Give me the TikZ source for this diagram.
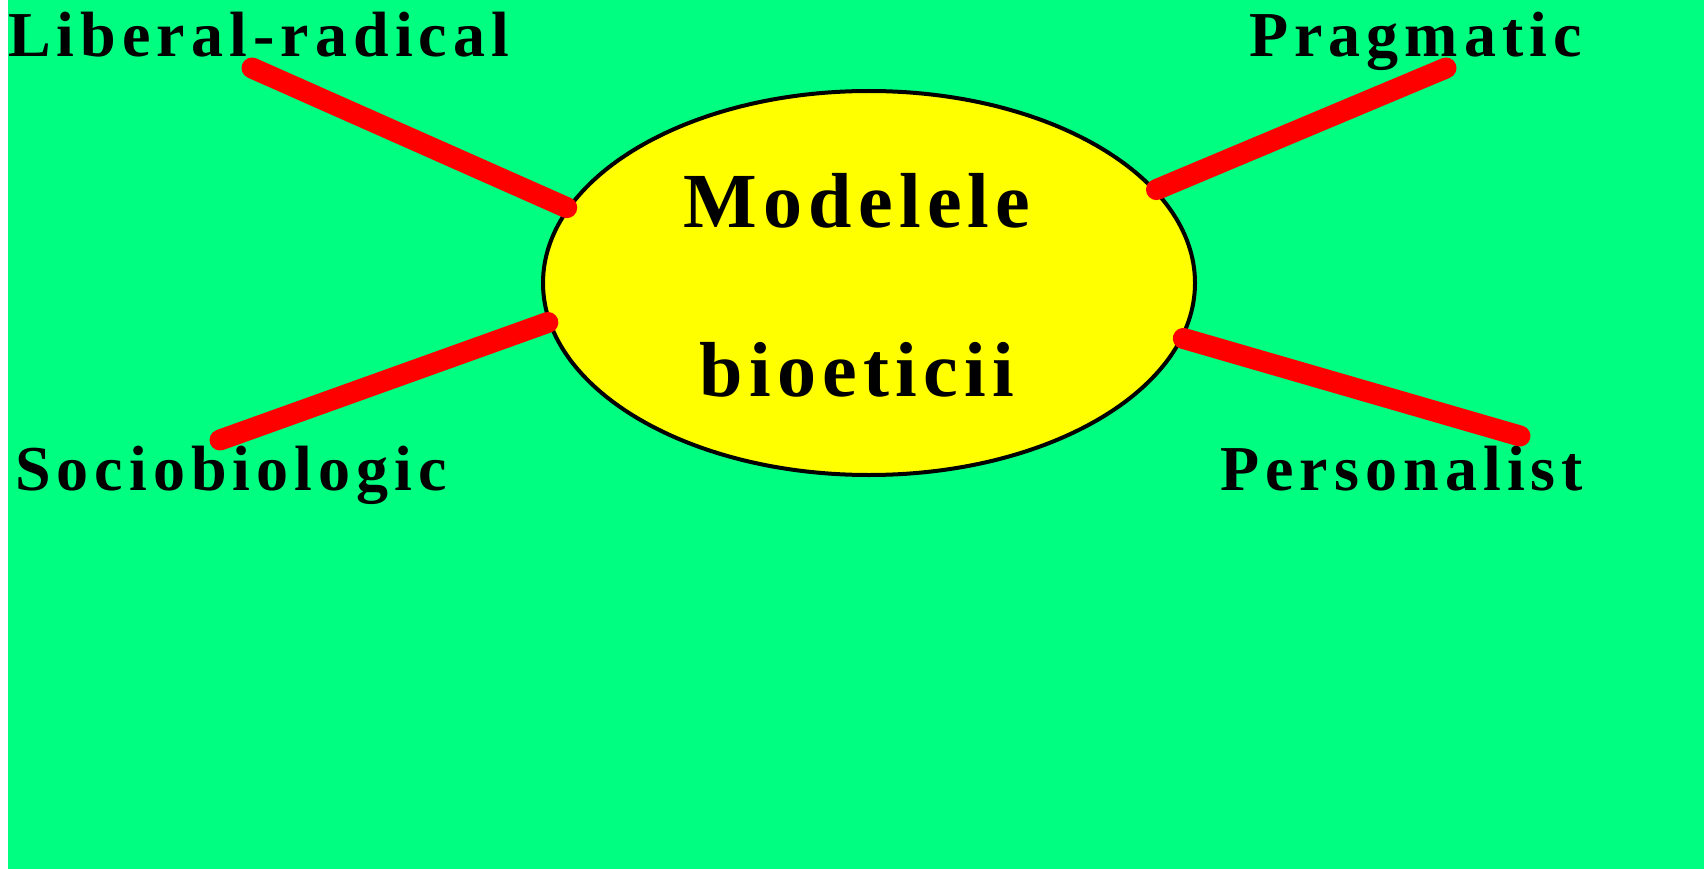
\documentclass[tikz,border=0pt]{standalone}
\usepackage{fontspec}
\setmainfont{Liberation Serif}
\newfontfamily\etichetafont{Liberation Serif}[LetterSpace=9.5]
\newfontfamily\titlufont{Liberation Serif}[LetterSpace=8]
\usetikzlibrary{shapes.geometric}
\definecolor{verde}{RGB}{0,255,128}
\definecolor{galben}{RGB}{255,255,0}
\definecolor{rosu}{RGB}{255,0,0}
\tikzset{
  eticheta/.style={anchor=base west, inner sep=0pt, font=\etichetafont\bfseries\fontsize{64}{64}\selectfont},
  titlu/.style={anchor=base, inner sep=0pt, font=\titlufont\bfseries\fontsize{78}{78}\selectfont},
  legatura/.style={draw=rosu, line width=21pt, line cap=round},
}
\begin{document}
\begin{tikzpicture}[x=1pt,y=-1pt]
\useasboundingbox (0,0) rectangle (1704,869);

% Fundal
\fill[verde] (8,0) rectangle (1704,869);

% Elipsa
\node[ellipse, draw=black, line width=4pt, fill=galben, minimum width=652pt, minimum height=384pt, inner sep=0pt] (model) at (869,283) {};
\node[titlu] (modelele) at (857,227) {Modelele};
\node[titlu] (bioeticii) at (857,396) {bioeticii};

% Modele
\node[eticheta] (liberal) at (8,57) {Liberal-radical};
\node[eticheta] (pragmatic) at (1249,57) {Pragmatic};
\node[eticheta] (sociobiologic) at (15,490) {Sociobiologic};
\node[eticheta] (personalist) at (1220,490) {Personalist};

% Legaturi
\coordinate (cLiberal) at (252,68);
\coordinate (cPragmatic) at (1446,68);
\coordinate (cSociobiologic) at (220,440);
\coordinate (cPersonalist) at (1520,436);

\draw[legatura] (cLiberal) -- (model.166);
\draw[legatura] (cPragmatic) -- (model.18);
\draw[legatura] (cSociobiologic) -- (model.187);
\draw[legatura] (cPersonalist) -- (model.350);

\end{tikzpicture}
\end{document}
